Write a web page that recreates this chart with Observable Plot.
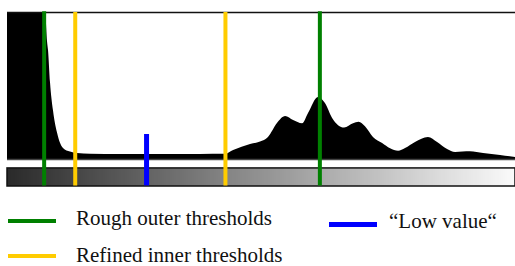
<!DOCTYPE html>
<html>
<head>
<meta charset="utf-8">
<script src="https://cdn.jsdelivr.net/npm/d3@7"></script>
<script src="https://cdn.jsdelivr.net/npm/@observablehq/plot@0.6"></script>
<style>
  html, body { margin: 0; padding: 0; background: #fff; }
  #wrap { position: relative; width: 515px; height: 266px; overflow: hidden; }
  #chart svg { display: block; }
  .sw { position: absolute; }
  .lt { position: absolute; font-family: "Liberation Serif", "Times New Roman", serif; font-size: 21px; line-height: 21px; color: #111; white-space: nowrap; }
</style>
</head>
<body>
<div id="wrap">
  <div id="chart"></div>
  <div class="sw" style="left:8px;top:218.5px;width:48px;height:4px;background:#008000"></div>
  <div class="lt" style="left:76px;top:208.4px">Rough outer thresholds</div>
  <div class="sw" style="left:8px;top:254px;width:48px;height:4px;background:#FFCC00"></div>
  <div class="lt" style="left:76px;top:245.4px">Refined inner thresholds</div>
  <div class="sw" style="left:329px;top:222px;width:48px;height:5px;background:#0000FF"></div>
  <div class="lt" style="left:389px;top:211.4px">“Low value“</div>
</div>
<script>
// Histogram (intensity 0-255, relative count; values >100 are clipped at the frame)
const intensity = [0, 18.1, 19.3, 20.1, 20.6, 21.6, 23.1, 25.1, 26.6, 28.1, 31.6, 35.1, 41.7, 56.7, 76.8, 96.9,
  109.4, 113.5, 122.0, 127.0, 131.0, 135.5, 139.6, 143.6, 148.1, 151.1, 156.1, 159.6, 163.2, 169.2,
  173.7, 176.5, 179.7, 183.7, 188.3, 192.3, 196.3, 199.8, 204.8, 211.3, 215.9, 220.9, 224.9, 232.4, 239.0, 247.5, 255];
const counts = [130, 130, 100, 80, 74, 52, 33, 18, 11, 7.5, 5, 4, 3.6, 3.4, 3.3, 3.4,
  3.5, 6.1, 10.2, 11.8, 15, 24.5, 29.3, 26.5, 24.3, 31.3, 42.2, 38, 27.9, 21.4,
  24.3, 25.4, 22.2, 15, 10.9, 7.3, 5.6, 7.5, 11.6, 15, 11.6, 6.8, 4.8, 5.3, 4.1, 2.7, 1.4];

// Thresholds
const roughOuter = [18.4, 156.8];
const refinedInner = [34, 109.4];
const lowValue = [69.8];

// Gray ramp levels for the intensity bar
const grayLevels = d3.range(0, 255);

const hist = intensity.map((v, i) => ({v, h: counts[i]}));
const ramp = d3.interpolateRgb("#2a2a2a", "#fafafa");

const stripTop = -6.1, stripBottom = -18.4;

const chart = Plot.plot({
  width: 515,
  height: 190,
  marginLeft: 7,
  marginRight: 0,
  marginTop: 12,
  marginBottom: 4,
  x: {domain: [0, 255], axis: null},
  y: {domain: [-18.4, 100], axis: null},
  marks: [
    Plot.areaY(hist, {x: "v", y: "h", fill: "black", curve: "monotone-x", clip: true}),
    Plot.ruleY([0], {stroke: "#444", strokeWidth: 1.5}),
    Plot.ruleY([100], {stroke: "#111", strokeWidth: 1.5}),
    Plot.rect(grayLevels, {x1: d => d, x2: d => d + 1, y1: stripTop, y2: stripBottom,
      fill: d => ramp(d / 254), shapeRendering: "crispEdges"}),
    Plot.rect([0], {x1: 0, x2: 255, y1: stripTop, y2: stripBottom, fill: "none", stroke: "#111", strokeWidth: 1.5}),
    Plot.ruleX(refinedInner, {y1: -18, y2: 100, stroke: "#FFCC00", strokeWidth: 4}),
    Plot.ruleX(roughOuter, {y1: -18, y2: 100.5, stroke: "#008000", strokeWidth: 4}),
    Plot.ruleX(lowValue, {y1: -18, y2: 17, stroke: "#0000FF", strokeWidth: 5})
  ]
});
document.getElementById("chart").appendChild(chart);
</script>
</body>
</html>
